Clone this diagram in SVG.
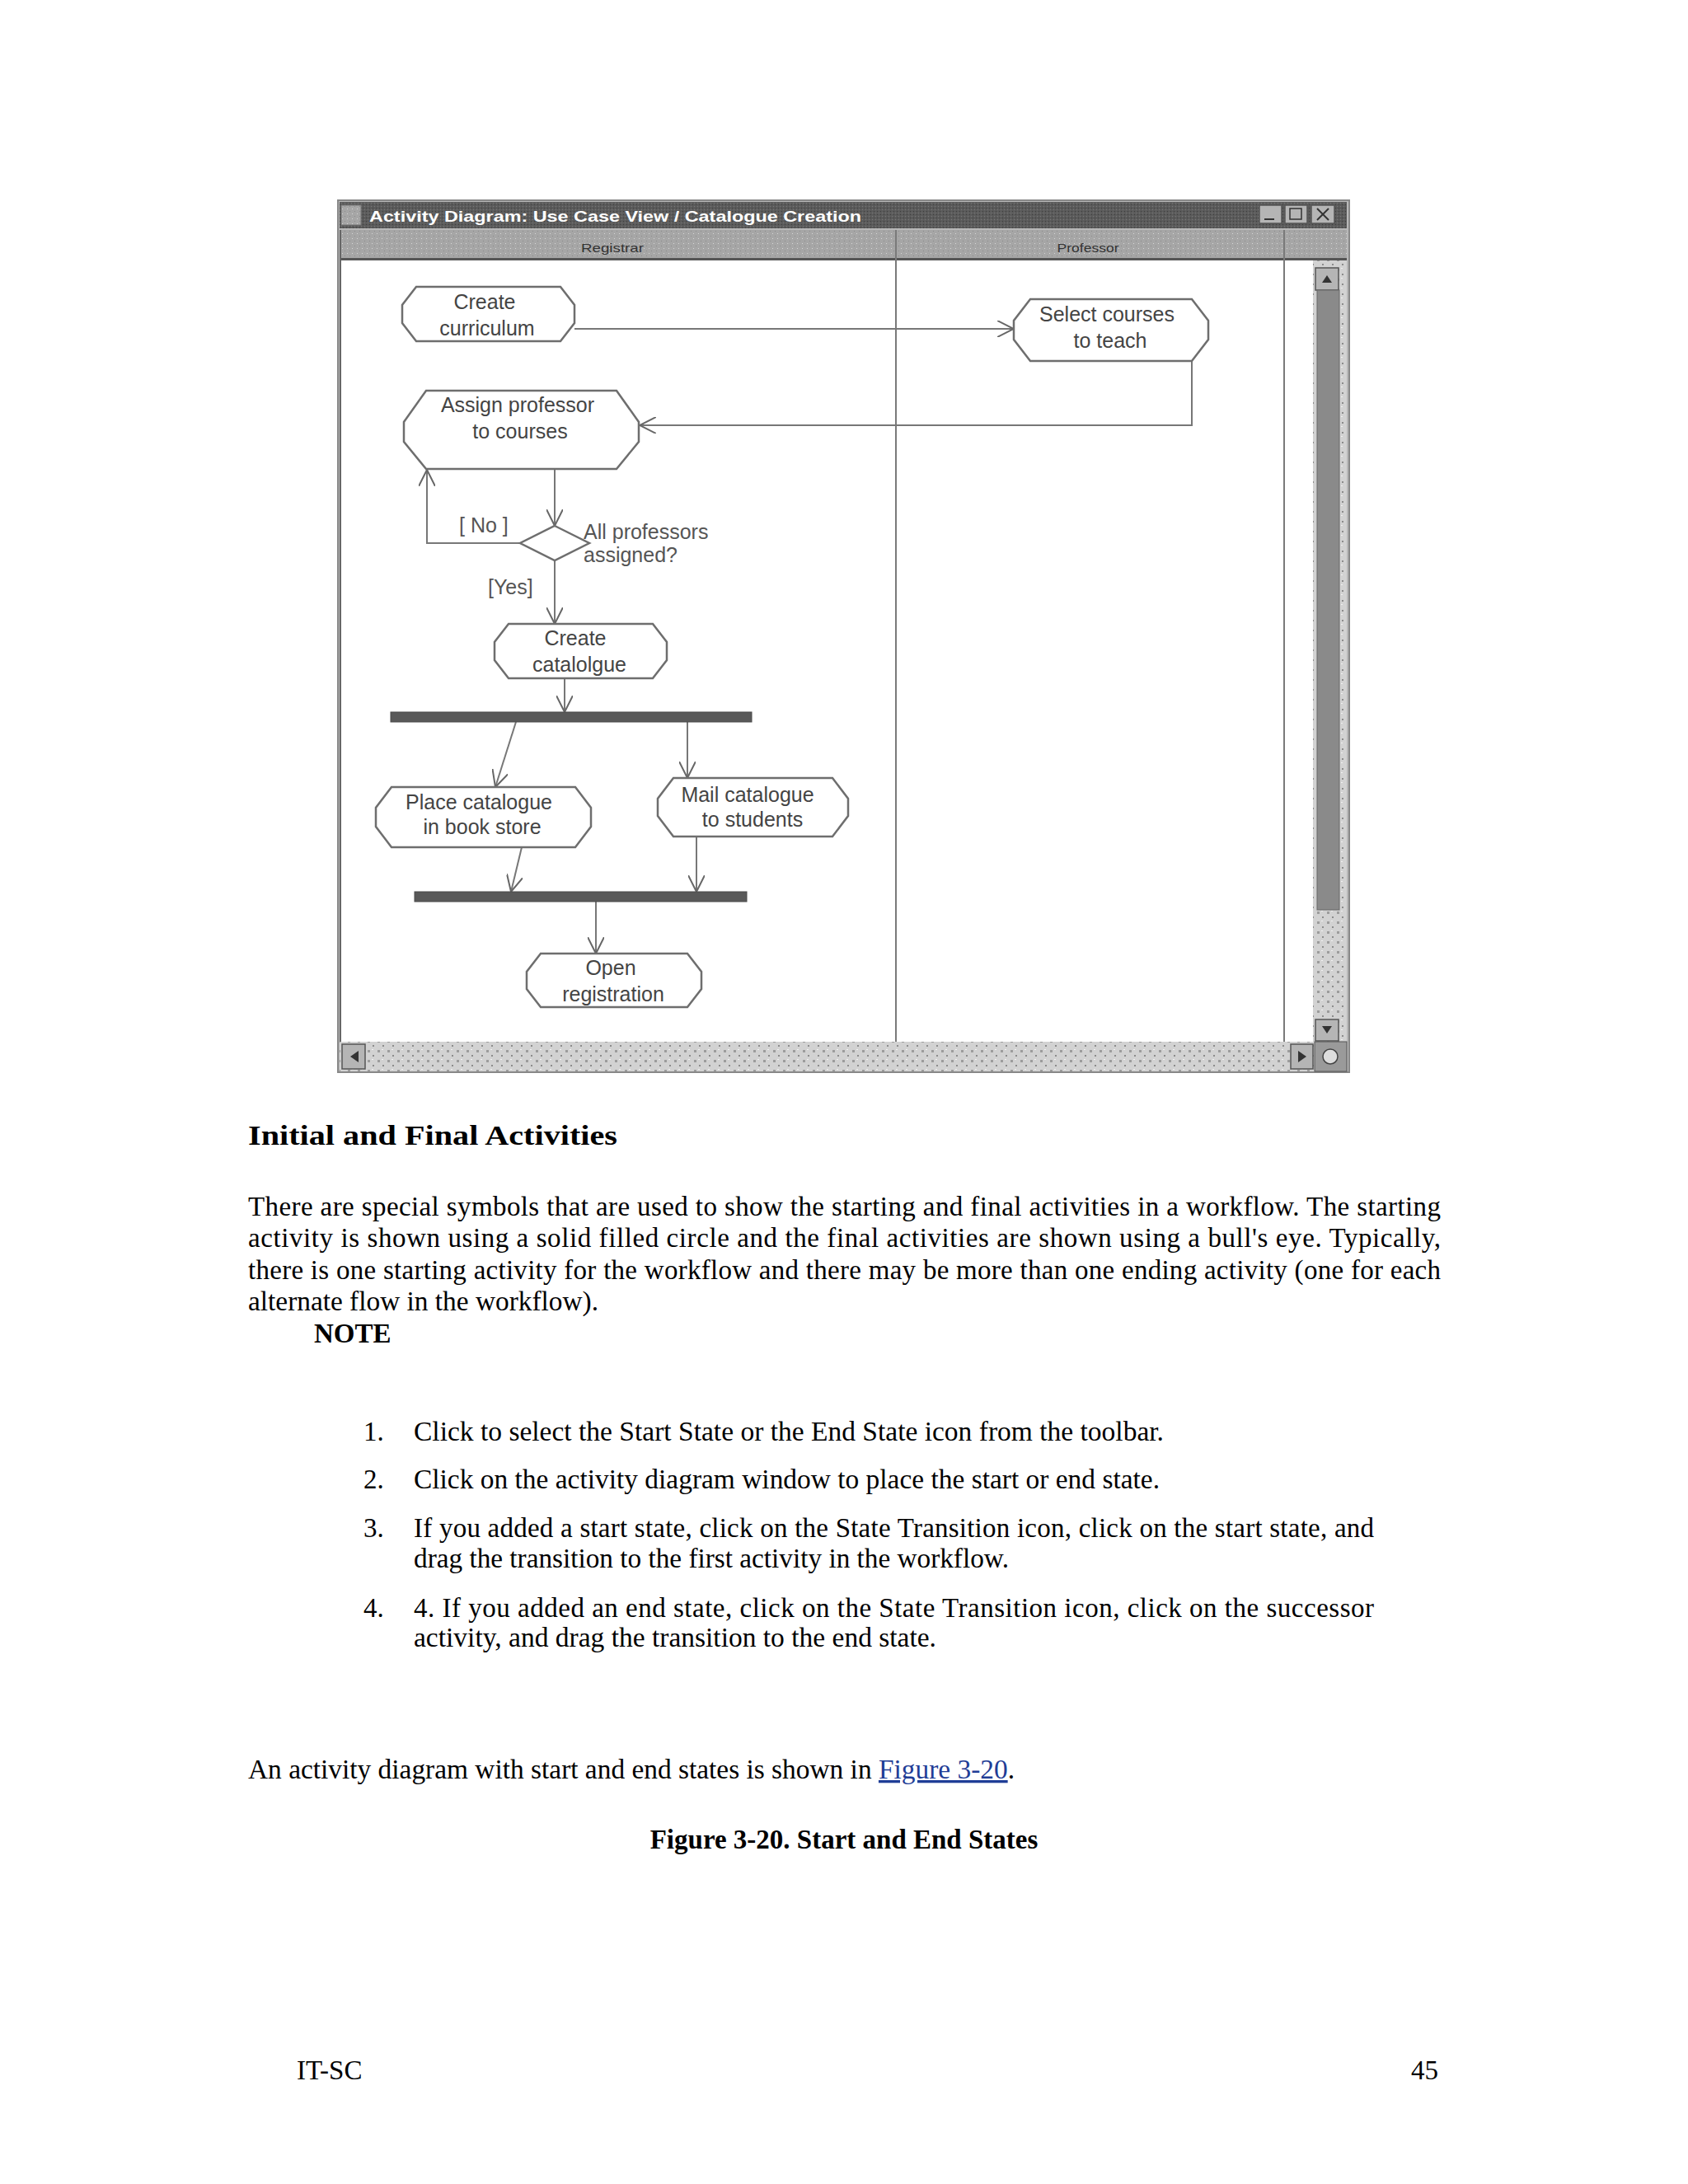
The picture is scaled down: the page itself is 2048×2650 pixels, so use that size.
<svg xmlns="http://www.w3.org/2000/svg" width="2048" height="2650" viewBox="0 0 2048 2650">
<style>
.page{font-family:"Liberation Serif","Times New Roman",serif;font-size:33px;fill:#000}
.bold{font-weight:bold}
.node{fill:#fff;stroke:#6e6e6e;stroke-width:2.5}
.lbl{font-family:"Liberation Sans",Arial,sans-serif;font-size:25px;fill:#444;text-anchor:middle}
.glbl{font-family:"Liberation Sans",Arial,sans-serif;font-size:25px;fill:#555}
.conn{fill:none;stroke:#777;stroke-width:2}
.bar{fill:#595959;stroke:#4a4a4a;stroke-width:1}
.btn{fill:#b5b5b5;stroke:#555;stroke-width:1.5}
.hdr{font-family:"Liberation Sans",Arial,sans-serif;font-size:15px;fill:#333;text-anchor:middle}
</style>
<defs>
<marker id="arr" viewBox="0 0 20 20" refX="20" refY="10" markerWidth="20" markerHeight="20" markerUnits="userSpaceOnUse" orient="auto">
<path d="M0,0 L20,10 L0,20" fill="none" stroke="#666" stroke-width="2"/>
</marker>
<pattern id="titlePat" width="4" height="4" patternUnits="userSpaceOnUse">
<rect width="4" height="4" fill="#5b5b5b"/>
<rect x="0" y="0" width="1" height="1" fill="#3c3c3c"/>
<rect x="2" y="2" width="1" height="1" fill="#7a7a7a"/>
</pattern>
<pattern id="hdrPat" width="6" height="6" patternUnits="userSpaceOnUse">
<rect width="6" height="6" fill="#a6a6a6"/>
<rect x="1" y="1" width="1" height="1" fill="#d6d6d6"/>
<rect x="4" y="4" width="1" height="1" fill="#8a8a8a"/>
</pattern>
<pattern id="scrollPat" width="12" height="12" patternUnits="userSpaceOnUse">
<rect width="12" height="12" fill="#d2d2d2"/>
<rect x="2" y="2" width="3" height="3" fill="#9c9c9c"/>
<rect x="8" y="8" width="2" height="2" fill="#8c8c8c"/>
<rect x="7" y="1" width="2" height="1" fill="#f0f0f0"/>
</pattern>
</defs>
<rect width="2048" height="2650" fill="#fff"/>

<!-- window frame -->
<g id="window">
<rect x="410" y="243" width="1227" height="1058" fill="#b8b8b8" stroke="#888" stroke-width="2"/>
<rect x="412" y="245" width="1222" height="32" fill="url(#titlePat)"/>
<rect x="414" y="249" width="24" height="24" fill="url(#hdrPat)" stroke="#777"/>
<text x="448" y="269" font-family="Liberation Sans, Arial, sans-serif" font-size="19" font-weight="bold" fill="#fff" textLength="597" lengthAdjust="spacingAndGlyphs">Activity Diagram: Use Case View / Catalogue Creation</text>
<rect class="btn" x="1528" y="249" width="27" height="22"/>
<path d="M1534,266 H1546" stroke="#333" stroke-width="2"/>
<rect class="btn" x="1559" y="249" width="27" height="22"/>
<rect x="1565" y="253" width="14" height="13" fill="none" stroke="#333" stroke-width="1.5"/>
<rect class="btn" x="1591" y="249" width="28" height="22"/>
<path d="M1598,253 L1612,267 M1612,253 L1598,267" stroke="#333" stroke-width="2"/>
<rect x="412" y="279" width="1222" height="34" fill="url(#hdrPat)"/>
<text class="hdr" x="743" y="306" textLength="76" lengthAdjust="spacingAndGlyphs">Registrar</text>
<text class="hdr" x="1320" y="306" textLength="75" lengthAdjust="spacingAndGlyphs">Professor</text>
<rect x="412" y="313" width="1222" height="3" fill="#555"/>
<rect x="414" y="316" width="1179" height="948" fill="#fff"/>
<line x1="413" y1="279" x2="413" y2="1264" stroke="#666" stroke-width="2"/>
<line x1="1087" y1="279" x2="1087" y2="1264" stroke="#7a7a7a" stroke-width="2"/>
<line x1="1558" y1="279" x2="1558" y2="1264" stroke="#7a7a7a" stroke-width="2"/>
<rect x="1593" y="316" width="41" height="948" fill="url(#scrollPat)"/>
<rect class="btn" x="1596" y="325" width="28" height="27"/>
<path d="M1604,343 L1610,334 L1616,343 Z" fill="#333"/>
<rect x="1598" y="352" width="27" height="752" fill="#8a8a8a" stroke="#666"/>
<rect class="btn" x="1596" y="1237" width="28" height="26"/>
<path d="M1604,1245 L1610,1254 L1616,1245 Z" fill="#333"/>
<rect x="412" y="1264" width="1183" height="36" fill="url(#scrollPat)"/>
<rect class="btn" x="415" y="1267" width="28" height="30"/>
<path d="M435,1275 L425,1282 L435,1289 Z" fill="#333"/>
<rect class="btn" x="1566" y="1267" width="27" height="30"/>
<path d="M1575,1275 L1585,1282 L1575,1289 Z" fill="#333"/>
<rect x="1595" y="1264" width="39" height="36" fill="#9a9a9a" stroke="#555"/>
<circle cx="1614" cy="1282" r="9" fill="#ddd" stroke="#444" stroke-width="1.5"/>
</g>

<!-- connectors -->
<g id="connectors">
<path class="conn" d="M697,399 L1230,399" marker-end="url(#arr)"/>
<path class="conn" d="M1446,438 L1446,516 L776,516" marker-end="url(#arr)"/>
<path class="conn" d="M673,569 L673,638" marker-end="url(#arr)"/>
<path class="conn" d="M631,659 L518,659 L518,570" marker-end="url(#arr)"/>
<path class="conn" d="M673,680 L673,757" marker-end="url(#arr)"/>
<path class="conn" d="M685,823 L685,864" marker-end="url(#arr)"/>
<path class="conn" d="M626,876 L601,955" marker-end="url(#arr)"/>
<path class="conn" d="M834,876 L834,944" marker-end="url(#arr)"/>
<path class="conn" d="M633,1028 L620,1082" marker-end="url(#arr)"/>
<path class="conn" d="M845,1015 L845,1082" marker-end="url(#arr)"/>
<path class="conn" d="M723,1094 L723,1157" marker-end="url(#arr)"/>
<text class="glbl" x="557" y="646">[ No ]</text>
<text class="glbl" x="592" y="721">[Yes]</text>
</g>

<!-- nodes -->
<g id="create-curriculum">
<polygon class="node" points="505,348 680,348 697,370 697,392 680,414 505,414 488,392 488,370"/>
<text class="lbl" x="588" y="375">Create</text>
<text class="lbl" x="591" y="407">curriculum</text>
</g>
<g id="select-courses">
<polygon class="node" points="1250,363 1446,363 1466,389 1466,412 1446,438 1250,438 1230,412 1230,389"/>
<text class="lbl" x="1343" y="390">Select courses</text>
<text class="lbl" x="1347" y="422">to teach</text>
</g>
<g id="assign-professor">
<polygon class="node" points="517,474 748,474 775,512 775,536 748,569 517,569 490,536 490,512"/>
<text class="lbl" x="628" y="500">Assign professor</text>
<text class="lbl" x="631" y="532">to courses</text>
</g>
<g id="decision">
<polygon class="node" points="673,638 715,659 673,680 631,659"/>
<text class="glbl" x="708" y="654">All professors</text>
<text class="glbl" x="708" y="682">assigned?</text>
</g>
<g id="create-catalogue">
<polygon class="node" points="617,757 792,757 809,779 809,801 792,823 617,823 600,801 600,779"/>
<text class="lbl" x="698" y="783">Create</text>
<text class="lbl" x="703" y="815">catalolgue</text>
</g>
<g id="fork-bar">
<rect class="bar" x="474" y="864" width="438" height="12"/>
</g>
<g id="place-catalogue">
<polygon class="node" points="475,955 698,955 717,980 717,1003 698,1028 475,1028 456,1003 456,980"/>
<text class="lbl" x="581" y="982">Place catalogue</text>
<text class="lbl" x="585" y="1012">in book store</text>
</g>
<g id="mail-catalogue">
<polygon class="node" points="817,944 1010,944 1029,969 1029,990 1010,1015 817,1015 798,990 798,969"/>
<text class="lbl" x="907" y="973">Mail catalogue</text>
<text class="lbl" x="913" y="1003">to students</text>
</g>
<g id="join-bar">
<rect class="bar" x="503" y="1082" width="403" height="12"/>
</g>
<g id="open-registration">
<polygon class="node" points="656,1157 834,1157 851,1179 851,1200 834,1222 656,1222 639,1200 639,1179"/>
<text class="lbl" x="741" y="1183">Open</text>
<text class="lbl" x="744" y="1215">registration</text>
</g>

<!-- page text -->
<g id="page-text">
<text class="page bold" x="301" y="1389" font-size="39" fill="#333" textLength="448" lengthAdjust="spacingAndGlyphs">Initial and Final Activities</text>
<text class="page" x="301" y="1475" textLength="1447" lengthAdjust="spacing">There are special symbols that are used to show the starting and final activities in a workflow. The starting</text>
<text class="page" x="301" y="1513" textLength="1447" lengthAdjust="spacing">activity is shown using a solid filled circle and the final activities are shown using a bull's eye. Typically,</text>
<text class="page" x="301" y="1552" textLength="1447" lengthAdjust="spacing">there is one starting activity for the workflow and there may be more than one ending activity (one for each</text>
<text class="page" x="301" y="1590" textLength="425" lengthAdjust="spacingAndGlyphs">alternate flow in the workflow).</text>
<text class="page bold" x="381" y="1629">NOTE</text>
<text class="page" x="441" y="1748">1.</text>
<text class="page" x="502" y="1748" textLength="910" lengthAdjust="spacingAndGlyphs">Click to select the Start State or the End State icon from the toolbar.</text>
<text class="page" x="441" y="1806">2.</text>
<text class="page" x="502" y="1806" textLength="905" lengthAdjust="spacingAndGlyphs">Click on the activity diagram window to place the start or end state.</text>
<text class="page" x="441" y="1865">3.</text>
<text class="page" x="502" y="1865" textLength="1165" lengthAdjust="spacing">If you added a start state, click on the State Transition icon, click on the start state, and</text>
<text class="page" x="502" y="1902" textLength="722" lengthAdjust="spacingAndGlyphs">drag the transition to the first activity in the workflow.</text>
<text class="page" x="441" y="1962">4.</text>
<text class="page" x="502" y="1962" textLength="1165" lengthAdjust="spacing">4. If you added an end state, click on the State Transition icon, click on the successor</text>
<text class="page" x="502" y="1998" textLength="634" lengthAdjust="spacingAndGlyphs">activity, and drag the transition to the end state.</text>
<text class="page" x="301" y="2158" textLength="930" lengthAdjust="spacingAndGlyphs">An activity diagram with start and end states is shown in <tspan fill="#1f3d96" text-decoration="underline">Figure 3-20</tspan>.</text>
<text class="page bold" x="1024" y="2243" fill="#333" text-anchor="middle">Figure 3-20. Start and End States</text>
<text class="page" x="360" y="2523">IT-SC</text>
<text class="page" x="1745" y="2523" text-anchor="end">45</text>
</g>
</svg>
